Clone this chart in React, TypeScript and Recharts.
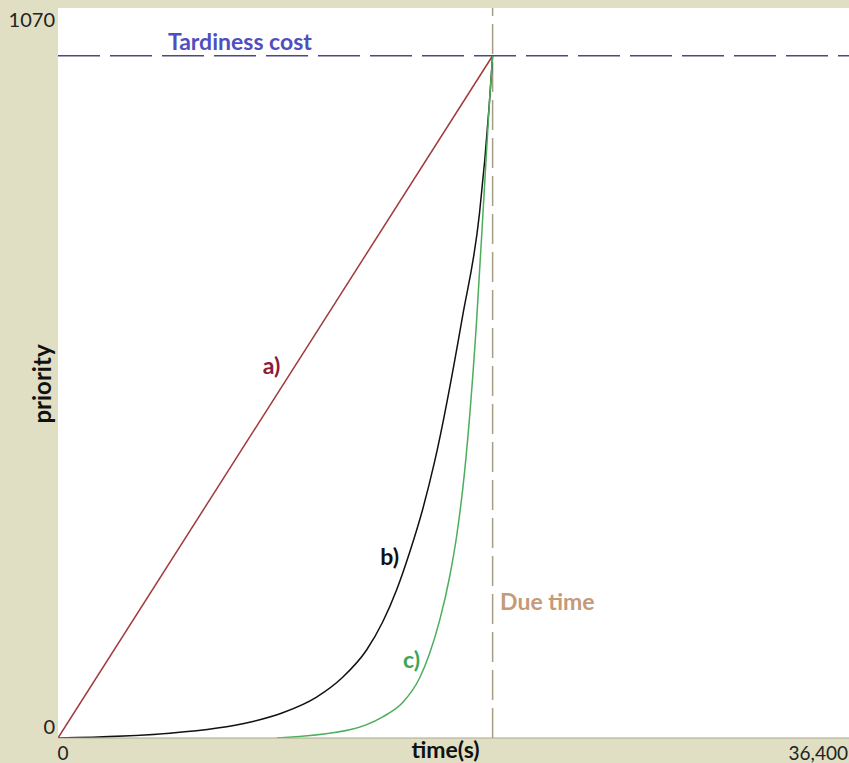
import React from 'react'
import {
    LineChart,
    Line,
    XAxis,
    YAxis,
    CartesianGrid,
    ReferenceLine,
    ReferenceDot
} from 'recharts'

// axis extents and tick labels
const xTicks = [0, 36400]
const yTicks = [0, 1070]
const dueTime = 20000
const tardinessCost = 1000

// a) linear priority
const linearX = [0, 20000]
const linearY = [0, 1000]

// b) exponential priority (read off the picture)
const expX = [0, 5150, 8820, 10340, 11900, 13100, 14200, 14940, 15580, 16180, 16780, 17330, 18610, 19400, 19850, 20000]
const expY = [0, 7, 23, 37, 60, 89, 129, 170, 217, 272, 335, 405, 617, 770, 930, 1000]

// c) steeper exponential priority
const steepX = [10070, 13420, 14940, 15860, 16640, 17100, 17560, 18020, 18340, 18710, 19260, 19630, 19850, 20000]
const steepY = [0, 12, 31, 52, 88, 124, 172, 236, 295, 390, 610, 810, 930, 1000]

// text marks inside the plot
const markLabels = ['a)', 'b)', 'c)', 'Due time', 'Tardiness cost']
const markX = [9830, 15260, 16270, 22520, 8370]
const markY = [545, 265, 114, 199, 1020]
const markColors = ['#8a1c3c', '#111111', '#3fa556', '#c49a78', '#4f4fbf']

const zip = (xs: number[], ys: number[]) => xs.map((x, i) => ({ x, v: ys[i] }))

const linearData = zip(linearX, linearY)
const expData = zip(expX, expY)
const steepData = zip(steepX, steepY)

const FONT = 'Lato, "Open Sans", sans-serif'

function XTick(props: any) {
    const { x, y, payload } = props
    const isEnd = payload.value === xTicks[xTicks.length - 1]
    return (
        <text
            x={isEnd ? x + 19 : x + 5}
            y={y + 14}
            textAnchor={isEnd ? 'end' : 'middle'}
            fontFamily={FONT}
            fontSize={19}
            fill="#222"
        >
            {isEnd ? payload.value.toLocaleString('en-US') : payload.value}
        </text>
    )
}

function YTick(props: any) {
    const { x, y, payload } = props
    const isTop = payload.value === yTicks[yTicks.length - 1]
    return (
        <text
            x={x + 5}
            y={isTop ? y + 18 : y - 4}
            textAnchor="end"
            fontFamily={FONT}
            fontSize={20}
            fill="#222"
        >
            {payload.value}
        </text>
    )
}

function makeMark(i: number) {
    return (props: any) => (
        <text
            x={props.cx}
            y={props.cy}
            dy={8}
            textAnchor="middle"
            fontFamily={FONT}
            fontWeight={700}
            fontSize={23}
            fill={markColors[i]}
        >
            {markLabels[i]}
        </text>
    )
}

export default function App() {
    return (
        <div
            style={{
                position: 'absolute',
                left: 0,
                top: 0,
                width: 849,
                height: 763,
                background: '#e0dfc4',
                overflow: 'hidden'
            }}
        >
            <LineChart
                width={849}
                height={763}
                margin={{ top: 8, right: 0, left: 0, bottom: 0 }}
            >
                <CartesianGrid
                    horizontal={false}
                    vertical={false}
                    fill="#ffffff"
                    stroke="none"
                />
                <XAxis
                    dataKey="x"
                    type="number"
                    domain={[0, 36400]}
                    ticks={xTicks}
                    height={25}
                    tickLine={false}
                    axisLine={{ stroke: '#a9a88c' }}
                    tick={<XTick />}
                    allowDataOverflow
                    label={{
                        value: 'time(s)',
                        position: 'center',
                        dx: -8,
                        dy: -1,
                        style: { fontFamily: FONT, fontWeight: 700, fontSize: 23, fill: '#111' }
                    }}
                />
                <YAxis
                    type="number"
                    domain={[0, 1070]}
                    ticks={yTicks}
                    width={58}
                    tickLine={false}
                    axisLine={false}
                    tick={<YTick />}
                    allowDataOverflow
                    label={{
                        value: 'priority',
                        angle: -90,
                        position: 'center',
                        dx: 13,
                        dy: 11,
                        style: { fontFamily: FONT, fontWeight: 700, fontSize: 24, fill: '#111' }
                    }}
                />
                <ReferenceLine
                    y={tardinessCost}
                    stroke="#4a4a7c"
                    strokeWidth={1.5}
                    strokeDasharray="42 10"
                />
                <ReferenceLine
                    x={dueTime}
                    stroke="#a39d84"
                    strokeWidth={1.5}
                    strokeDasharray="30 8"
                />
                <Line
                    data={linearData}
                    dataKey="v"
                    type="linear"
                    stroke="#a03a3a"
                    strokeWidth={1.5}
                    dot={false}
                    isAnimationActive={false}
                />
                <Line
                    data={expData}
                    dataKey="v"
                    type="monotone"
                    stroke="#111111"
                    strokeWidth={1.5}
                    dot={false}
                    isAnimationActive={false}
                />
                <Line
                    data={steepData}
                    dataKey="v"
                    type="monotone"
                    stroke="#4cae5c"
                    strokeWidth={1.5}
                    dot={false}
                    isAnimationActive={false}
                />
                {markLabels.map((_, i) => (
                    <ReferenceDot
                        key={i}
                        x={markX[i]}
                        y={markY[i]}
                        r={0}
                        shape={makeMark(i)}
                    />
                ))}
            </LineChart>
        </div>
    )
}
